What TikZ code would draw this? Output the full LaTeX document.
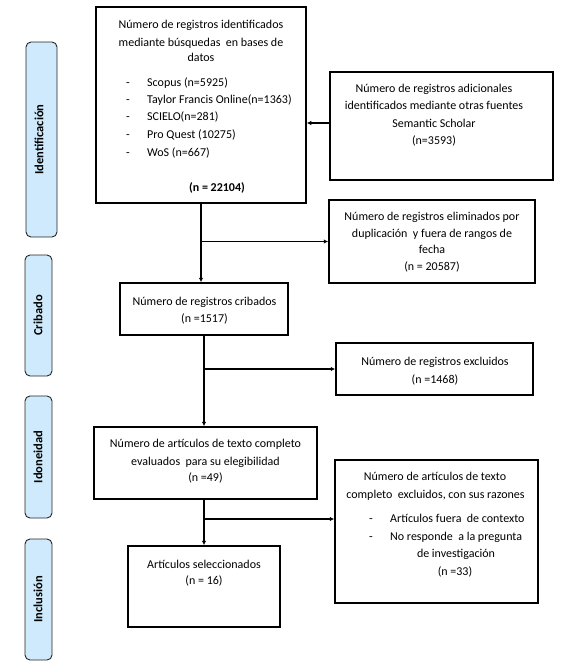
\documentclass[tikz,border=0pt]{standalone}
\usepackage{fontspec}
\setmainfont{Carlito}
\usetikzlibrary{arrows.meta}
\definecolor{lblue}{RGB}{206,234,252}
\begin{document}
\begin{tikzpicture}[x=1pt,y=-1pt,
 box/.style={draw=black,line width=1.5pt,inner sep=0pt,fill=white},
 side/.style={draw=black!85,line width=0.9pt,fill=lblue,rounded corners=5pt,inner sep=0pt},
 txt/.style={inner sep=0pt,text height=8.5pt,text depth=2.5pt,font=\fontsize{12}{14}\selectfont},
 sidetxt/.style={inner sep=0pt,font=\fontsize{12.5}{14}\selectfont\bfseries,rotate=90},
 conn/.style={line width=1.3pt},
 arr/.style={conn,-{Latex[length=4.5pt,width=4.5pt]}}]
\useasboundingbox (0,0) rectangle (561,665);
% side labels
\node[side,minimum width=31,minimum height=195] (s1) at (41.5,139.5) {};
\node[sidetxt] (s1t) at (39,139.5) {Identificación};
\node[side,minimum width=27,minimum height=121] (s2) at (38.5,315.5) {};
\node[sidetxt] (s2t) at (38,315.5) {Cribado};
\node[side,minimum width=27,minimum height=122] (s3) at (38.5,457) {};
\node[sidetxt] (s3t) at (38,457) {Idoneidad};
\node[side,minimum width=27,minimum height=121] (s4) at (38.5,599.5) {};
\node[sidetxt] (s4t) at (38,599.5) {Inclusión};
% boxes
\node[box,minimum width=210,minimum height=196] (b1) at (201,105) {};
\node[box,minimum width=223,minimum height=108] (b2) at (441.5,126) {};
\node[box,minimum width=206,minimum height=83] (elim) at (432,241.5) {};
\node[box,minimum width=168,minimum height=52] (b3) at (204,309) {};
\node[box,minimum width=197,minimum height=52] (excl) at (434.5,369) {};
\node[box,minimum width=223,minimum height=72] (b4) at (205.5,463) {};
\node[box,minimum width=152,minimum height=81] (b5) at (204,586.5) {};
\node[box,minimum width=203,minimum height=143] (excl2) at (436.5,531.5) {};
% box 1 text
\node[txt] (b1a) at (201,25) {Número de registros identificados};
\node[txt] (b1b) at (201,43) {mediante búsquedas\ \ en bases de};
\node[txt] (b1c) at (201,58) {datos};
\foreach \y/\t in {83/Scopus (n=5925),100/Taylor Francis Online(n=1363),117/SCIELO(n=281),135/Pro Quest (10275),153/WoS (n=667)}{
  \node[txt] (d\y) at (128,\y) {-};
  \node[txt,anchor=west] (l\y) at (147,\y) {\t};
}
\node[txt,font=\fontsize{12}{14}\selectfont\bfseries] (b1n) at (217,188) {(n = 22104)};
% box 2 text
\node[txt] (b2a) at (434,89) {Número de registros adicionales};
\node[txt] (b2b) at (434,106) {identificados mediante otras fuentes};
\node[txt] (b2c) at (434,124) {Semantic Scholar};
\node[txt] (b2d) at (434,141) {(n=3593)};
% elim text
\node[txt] (ea) at (432,217) {Número de registros eliminados por};
\node[txt] (eb) at (432,234) {duplicación\ \ y fuera de rangos de};
\node[txt] (ec) at (432,250) {fecha};
\node[txt] (ed) at (432,267) {(n = 20587)};
% b3 text
\node[txt] (b3a) at (204.5,302) {Número de registros cribados};
\node[txt] (b3b) at (204.5,319) {(n =1517)};
% excl text
\node[txt] (xa) at (435,362) {Número de registros excluidos};
\node[txt] (xb) at (435,380) {(n =1468)};
% b4 text
\node[txt] (b4a) at (205.5,444) {Número de artículos de texto completo};
\node[txt] (b4b) at (205.5,462) {evaluados\ \ para su elegibilidad};
\node[txt] (b4c) at (205.5,478) {(n =49)};
% b5 text
\node[txt] (b5a) at (204,565) {Artículos seleccionados};
\node[txt] (b5b) at (204,581) {(n = 16)};
% excl2 text
\node[txt] (ya) at (435,477) {Número de artículos de texto};
\node[txt] (yb) at (435.5,495) {completo\ \ excluidos, con sus razones};
\node[txt] (yd1) at (371,519) {-};
\node[txt,anchor=west] (yl1) at (390,519) {Artículos fuera\ \ de contexto};
\node[txt] (yd2) at (371,537) {-};
\node[txt,anchor=west] (yl2) at (390,537) {No responde\ \ a la pregunta};
\node[txt] (yc) at (456,554) {de investigación};
\node[txt] (ye) at (455,572) {(n =33)};
% connectors
\coordinate (j2) at (330,123);
\draw[arr] (j2) -- (j2 -| b1.east);
\draw[arr] (b1.south) -- (b1.south |- b3.north);
\draw[arr] (b1.south |- elim.west) -- (elim.west);
\draw[arr] (b3.south) -- (b3.south |- b4.north);
\draw[arr] (b3.south |- excl.west) -- (excl.west);
\draw[arr] (b5.north |- b4.south) -- (b5.north);
\coordinate (j4) at (204,519);
\draw[arr] (j4) -- (j4 -| excl2.west);
\end{tikzpicture}
\end{document}
